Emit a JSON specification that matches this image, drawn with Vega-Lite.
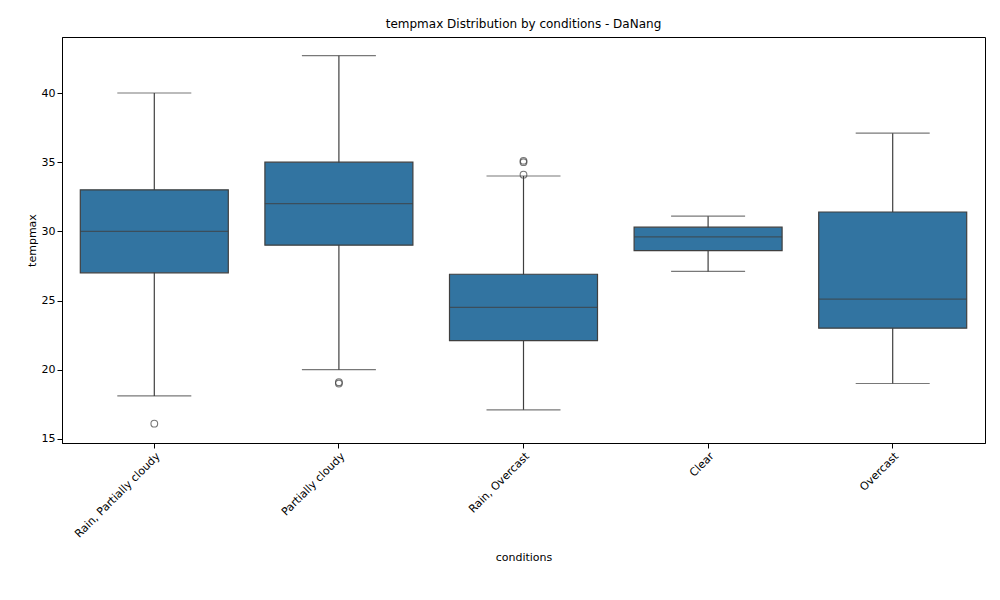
{
  "$schema": "https://vega.github.io/schema/vega-lite/v6.json",
  "autosize": {"type": "none"},
  "padding": {"left": 62, "top": 37, "right": 15, "bottom": 157},
  "width": 923,
  "height": 406,
  "title": {"text": "tempmax Distribution by conditions - DaNang", "fontSize": 12, "fontWeight": "normal", "font": "DejaVu Sans", "offset": 6},
  "datasets": {
    "stats": [
      {"cond": "Rain, Partially cloudy", "lo": 18.1, "q1": 27.0, "med": 30.0, "q3": 33.0, "hi": 40.0},
      {"cond": "Partially cloudy", "lo": 20.0, "q1": 29.0, "med": 32.0, "q3": 35.0, "hi": 42.7},
      {"cond": "Rain, Overcast", "lo": 17.1, "q1": 22.1, "med": 24.5, "q3": 26.9, "hi": 34.0},
      {"cond": "Clear", "lo": 27.1, "q1": 28.6, "med": 29.6, "q3": 30.3, "hi": 31.1},
      {"cond": "Overcast", "lo": 19.0, "q1": 23.0, "med": 25.1, "q3": 31.4, "hi": 37.1}
    ],
    "outliers": [
      {"cond": "Rain, Partially cloudy", "v": 16.1},
      {"cond": "Partially cloudy", "v": 19.1},
      {"cond": "Partially cloudy", "v": 19.0},
      {"cond": "Rain, Overcast", "v": 34.1},
      {"cond": "Rain, Overcast", "v": 35.0},
      {"cond": "Rain, Overcast", "v": 35.1}
    ]
  },
  "encoding": {
    "x": {
      "field": "cond", "type": "nominal", "sort": null, "title": "conditions",
      "scale": {"domain": ["Rain, Partially cloudy", "Partially cloudy", "Rain, Overcast", "Clear", "Overcast"]},
      "axis": {"labelAngle": -45, "labelAlign": "right", "labelBaseline": "top", "labelFontSize": 11, "titleFontSize": 11, "titleFontWeight": "normal", "labelColor": "black", "titleColor": "black", "domainColor": "black", "tickColor": "black", "labelFont": "DejaVu Sans", "titleFont": "DejaVu Sans", "titlePadding": 12}
    }
  },
  "layer": [
    {
      "data": {"name": "stats"},
      "mark": {"type": "rule", "color": "#3f3f3f", "strokeWidth": 1.2},
      "encoding": {
        "y": {"field": "lo", "type": "quantitative", "title": "tempmax",
          "scale": {"domain": [14.7, 44.05], "nice": false, "zero": false},
          "axis": {"values": [15, 20, 25, 30, 35, 40], "grid": false, "labelFontSize": 11, "titleFontSize": 11, "titleFontWeight": "normal", "labelColor": "black", "titleColor": "black", "domainColor": "black", "tickColor": "black", "labelFont": "DejaVu Sans", "titleFont": "DejaVu Sans"}},
        "y2": {"field": "hi"}
      }
    },
    {
      "data": {"name": "stats"},
      "mark": {"type": "bar", "size": 148, "color": "#3274a1", "stroke": "#3f3f3f", "strokeWidth": 1.2},
      "encoding": {"y": {"field": "q1", "type": "quantitative"}, "y2": {"field": "q3"}}
    },
    {
      "data": {"name": "stats"},
      "mark": {"type": "tick", "size": 148, "color": "#3f3f3f", "thickness": 1.2},
      "encoding": {"y": {"field": "med", "type": "quantitative"}}
    },
    {
      "data": {"name": "stats"},
      "mark": {"type": "tick", "size": 74, "color": "#3f3f3f", "thickness": 1.2},
      "encoding": {"y": {"field": "lo", "type": "quantitative"}}
    },
    {
      "data": {"name": "stats"},
      "mark": {"type": "tick", "size": 74, "color": "#3f3f3f", "thickness": 1.2},
      "encoding": {"y": {"field": "hi", "type": "quantitative"}}
    },
    {
      "data": {"name": "outliers"},
      "mark": {"type": "point", "size": 45, "color": "#3f3f3f", "strokeWidth": 1.1},
      "encoding": {"y": {"field": "v", "type": "quantitative"}}
    }
  ],
  "config": {"view": {"stroke": "black"}, "axis": {"grid": false}}
}
